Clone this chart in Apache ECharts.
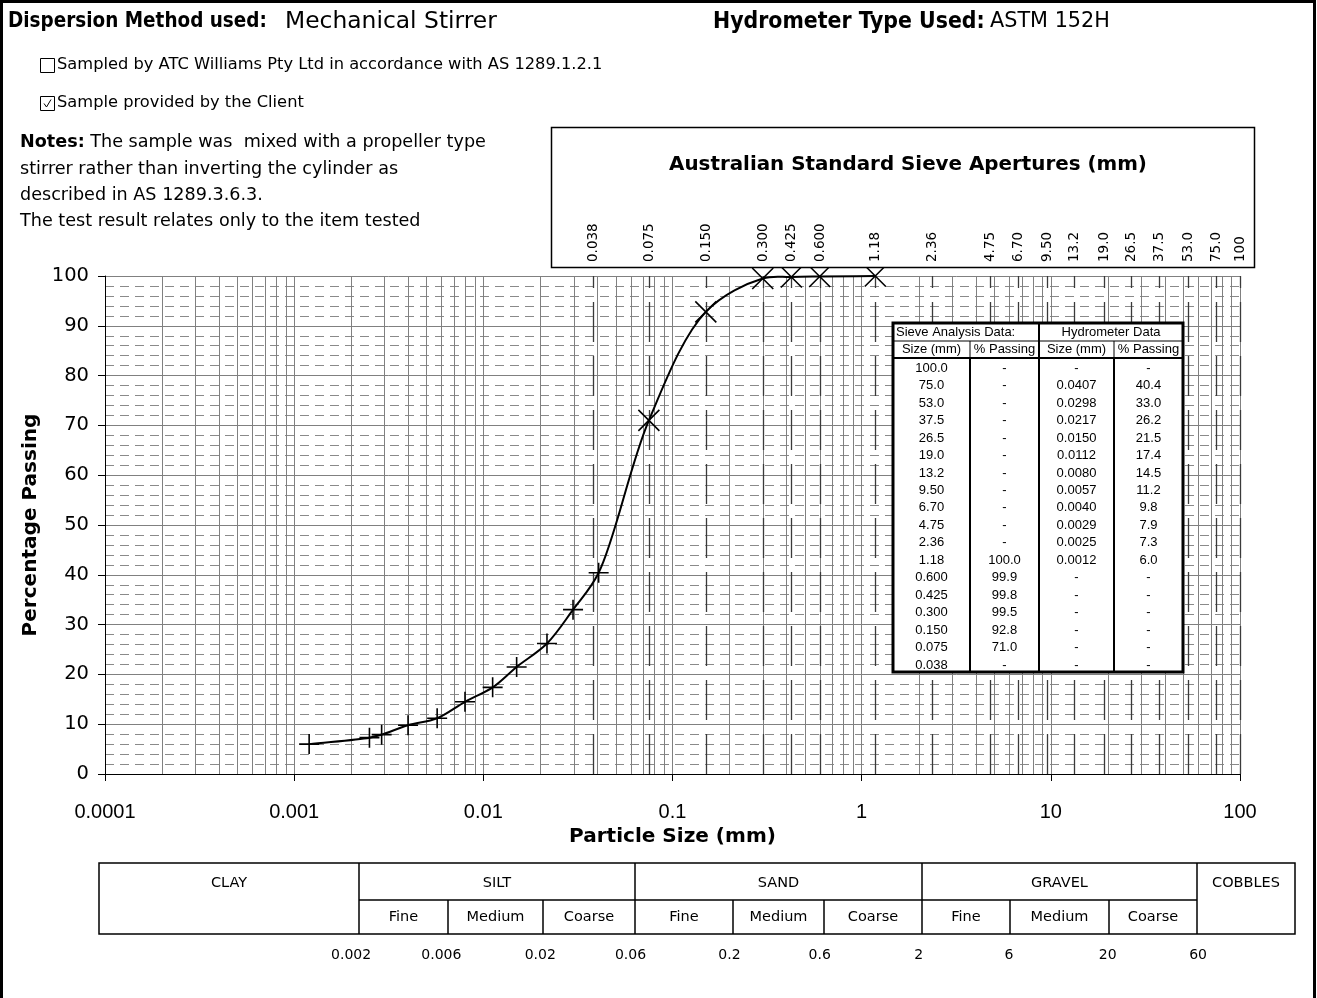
<!DOCTYPE html>
<html>
<head>
<meta charset="utf-8">
<title>Particle Size Distribution</title>
<script src="https://cdn.jsdelivr.net/npm/echarts@6/dist/echarts.min.js"></script>
<style>
  html, body { margin: 0; padding: 0; background: #fff; }
  #chart { width: 1317px; height: 998px; }
</style>
</head>
<body>
<div id="chart"></div>
<script>
// ---- Test data (rows listed coarse to fine, '-' = no reading) ----
const sieveSizes   = ['100.0','75.0','53.0','37.5','26.5','19.0','13.2','9.50','6.70','4.75','2.36','1.18','0.600','0.425','0.300','0.150','0.075','0.038'];
const sievePassing = ['-','-','-','-','-','-','-','-','-','-','-','100.0','99.9','99.8','99.5','92.8','71.0','-'];
const hydroSizes   = ['-','0.0407','0.0298','0.0217','0.0150','0.0112','0.0080','0.0057','0.0040','0.0029','0.0025','0.0012','-','-','-','-','-','-'];
const hydroPassing = ['-','40.4','33.0','26.2','21.5','17.4','14.5','11.2','9.8','7.9','7.3','6.0','-','-','-','-','-','-'];

// ---- Axis / annotation text ----
const apertureLabels = ['0.038','0.075','0.150','0.300','0.425','0.600','1.18','2.36','4.75','6.70','9.50','13.2','19.0','26.5','37.5','53.0','75.0','100'];
const xTickLabels = ['0.0001','0.001','0.01','0.1','1','10','100'];
const mainBands = ['CLAY','SILT','SAND','GRAVEL','COBBLES'];
const subBands = ['Fine','Medium','Coarse'];
const bandLimits = ['0.002','0.006','0.02','0.06','0.2','0.6','2','6','20','60'];
const noteLines = [
  'The sample was  mixed with a propeller type',
  'stirrer rather than inverting the cylinder as',
  'described in AS 1289.3.6.3.',
  'The test result relates only to the item tested'
];

const SANS = '"DejaVu Sans",Verdana,sans-serif';
const SANS_C = '"DejaVu Sans Condensed","DejaVu Sans",sans-serif';
const ARIAL = '"Liberation Sans",Arial,sans-serif';

// font size that makes a string span a given width
const mctx = document.createElement('canvas').getContext('2d');
function textW(str, weight, size, family) {
  mctx.font = weight + ' ' + size + 'px ' + family;
  return mctx.measureText(str).width;
}
function fit(str, weight, target, family) {
  return 100 * target / textW(str, weight, 100, family || SANS);
}

const num = s => (s === '-' ? null : parseFloat(s));
const sievePts = [];
sieveSizes.forEach((s, i) => { const p = num(sievePassing[i]); if (p !== null) sievePts.push([num(s), p]); });
const hydroPts = [];
hydroSizes.forEach((s, i) => { const p = num(hydroPassing[i]); if (s !== '-' && p !== null) hydroPts.push([num(s), p]); });
const curve = sievePts.concat(hydroPts).sort((a, b) => a[0] - b[0]);

// log-cycle minor grid (2..9 in each decade) and sieve aperture guide lines
const minorX = [];
for (let e = -4; e < 2; e++) for (let k = 2; k <= 9; k++) minorX.push([+(k * Math.pow(10, e)).toPrecision(3), 0]);
const sieveX = apertureLabels.map(s => [parseFloat(s), 0]);

function vline(color, width, dash) {
  return function (params, api) {
    const v = api.value(0);
    const p0 = api.coord([v, 0]);
    const p1 = api.coord([v, 100]);
    const x = Math.round(p0[0]) + 0.5;
    return {
      type: 'line',
      shape: { x1: x, y1: p0[1], x2: x, y2: p1[1] },
      style: { stroke: color, lineWidth: width, lineDash: dash },
      silent: true
    };
  };
}

// smoothed grading curve: one centripetal Catmull-Rom segment per reading,
// converted to a cubic bezier in screen space
function gradingSegment(params, api) {
  const i = params.dataIndex;
  const n = curve.length;
  if (i >= n - 1) return null;
  const P = k => api.coord(curve[Math.max(0, Math.min(n - 1, k))]);
  const p0 = P(i - 1), p1 = P(i), p2 = P(i + 1), p3 = P(i + 2);
  const dist = (a, b) => Math.sqrt(Math.hypot(b[0] - a[0], b[1] - a[1]));
  const d1 = dist(p0, p1), d2 = dist(p1, p2), d3 = dist(p2, p3);
  let c1 = p1, c2 = p2;
  if (d1 > 1e-6) {
    const A = d1 * d1, B = d2 * d2, den = 3 * d1 * (d1 + d2);
    c1 = [0, 1].map(k => (A * p2[k] - B * p0[k] + (2 * A + 3 * d1 * d2 + B) * p1[k]) / den);
  } else {
    c1 = [0, 1].map(k => p1[k] + (p2[k] - p1[k]) / 3);
  }
  if (d3 > 1e-6) {
    const C = d3 * d3, B = d2 * d2, den = 3 * d3 * (d3 + d2);
    c2 = [0, 1].map(k => (C * p1[k] - B * p3[k] + (2 * C + 3 * d3 * d2 + B) * p2[k]) / den);
  } else {
    c2 = [0, 1].map(k => p2[k] - (p2[k] - p1[k]) / 3);
  }
  return {
    type: 'bezierCurve',
    shape: {
      x1: p1[0], y1: p1[1], x2: p2[0], y2: p2[1],
      cpx1: c1[0], cpy1: c1[1], cpx2: c2[0], cpy2: c2[1]
    },
    style: { stroke: '#000', lineWidth: 2, fill: 'none' },
    silent: true
  };
}

const chart = echarts.init(document.getElementById('chart'));

const option = {
  animation: false,
  backgroundColor: '#fff',
  grid: { left: 105, right: 77, top: 276, bottom: 224 },
  xAxis: {
    type: 'log', logBase: 10, min: 0.0001, max: 100, splitNumber: 6,
    axisLine: { show: true, onZero: false, lineStyle: { color: '#000', width: 1 } },
    axisTick: { show: true, length: 7, lineStyle: { color: '#000' } },
    axisLabel: {
      margin: 28, fontSize: 20, fontFamily: ARIAL, color: '#000',
      formatter: v => xTickLabels[Math.round(Math.log10(v)) + 4]
    },
    splitLine: { show: true, lineStyle: { color: '#808080', width: 1 } },
    minorTick: { show: false }, minorSplitLine: { show: false },
    name: 'Particle Size (mm)', nameLocation: 'middle', nameGap: 53,
    nameTextStyle: { fontFamily: SANS, fontWeight: 'bold', fontSize: fit('Particle Size (mm)', 'bold', 207), color: '#000' }
  },
  yAxis: {
    type: 'value', min: 0, max: 100, interval: 10,
    axisLine: { show: true, lineStyle: { color: '#000', width: 1 } },
    axisTick: { show: true, length: 7, lineStyle: { color: '#000' } },
    axisLabel: { fontSize: 19.5, fontFamily: SANS, color: '#000', margin: 16 },
    splitLine: { show: true, lineStyle: { color: '#808080', width: 1 } },
    minorTick: { show: false, splitNumber: 5 },
    minorSplitLine: { show: true, lineStyle: { color: '#8a8a8a', width: 1, type: [9, 6] } },
    name: 'Percentage Passing', nameLocation: 'middle', nameGap: 60, nameRotate: 90,
    nameTextStyle: { fontFamily: SANS, fontWeight: 'bold', fontSize: fit('Percentage Passing', 'bold', 223), color: '#000' }
  },
  series: [
    { type: 'custom', data: minorX, renderItem: vline('#808080', 1, null), z: 1, silent: true },
    { type: 'custom', data: sieveX, renderItem: vline('#3a3a3a', 1.3, [40, 14]), z: 2, silent: true },
    { type: 'custom', data: curve, renderItem: gradingSegment, clip: false, z: 3, silent: true },
    {
      type: 'scatter', data: sievePts, z: 4,
      symbol: 'path://M0,0L10,10M0,10L10,0', symbolSize: 21,
      itemStyle: { color: 'none', borderColor: '#000', borderWidth: 1.6, opacity: 1 }
    },
    {
      type: 'scatter', data: hydroPts, z: 4,
      symbol: 'path://M5,0L5,10M0,5L10,5', symbolSize: 20,
      itemStyle: { color: 'none', borderColor: '#000', borderWidth: 1.6, opacity: 1 }
    }
  ]
};

chart.setOption(option);

const X = v => chart.convertToPixel({ xAxisIndex: 0 }, v);
const g = [];
const text = (x, y, str, o) => g.push({
  type: 'text', x, y, z: 100, silent: true, rotation: (o && o.rotation) || 0,
  style: Object.assign({ text: str, fill: '#000', fontFamily: SANS, fontSize: 16, align: 'left', verticalAlign: 'middle' }, o && o.style)
});
const line = (x1, y1, x2, y2, w) => g.push({
  type: 'line', z: 100, silent: true, shape: { x1, y1, x2, y2 }, style: { stroke: '#000', lineWidth: w || 1 }
});
const box = (x, y, w, h, lw, fill) => g.push({
  type: 'rect', z: 99, silent: true, shape: { x, y, width: w, height: h },
  style: { fill: fill || null, stroke: '#000', lineWidth: lw }
});

// page frame
box(1.5, 1.5, 1313, 1100, 3);

// header
const hdr = [
  ['Dispersion Method used:', 'bold', 8, 259, SANS_C],
  ['Mechanical Stirrer', 'normal', 285, 212, SANS],
  ['Hydrometer Type Used:', 'bold', 713, 272, SANS_C],
  ['ASTM 152H', 'normal', 990, 120, SANS]
];
hdr.forEach(h => text(h[2], 22, h[0], {
  style: { fontWeight: h[1], fontFamily: h[4], fontSize: fit(h[0], h[1], h[3], h[4]) }
}));

// check boxes
const cb1 = 'Sampled by ATC Williams Pty Ltd in accordance with AS 1289.1.2.1';
const cb2 = 'Sample provided by the Client';
const cbSize = (fit(cb1, 'normal', 561) + fit(cb2, 'normal', 240)) / 2;
box(40.5, 58.5, 14, 14, 1);
text(57, 65, cb1, { style: { fontSize: cbSize } });
box(40.5, 96.5, 14, 14, 1);
g.push({ type: 'polyline', z: 100, silent: true, shape: { points: [[44, 103.5], [46.5, 107], [51, 99.5]] }, style: { stroke: '#000', lineWidth: 1, fill: null } });
text(57, 103, cb2, { style: { fontSize: cbSize } });

// notes
const noteTargets = [378, 242, 403];
let ns = 0;
noteTargets.forEach((t, i) => { ns += fit(noteLines[i + 1], 'normal', t); });
ns /= noteTargets.length;
text(20, 142, '{b|Notes:} ' + noteLines[0],
  { style: { fontSize: ns, rich: { b: { fontWeight: 'bold', fontSize: ns, fontFamily: SANS } } } });
noteLines.slice(1).forEach((s, i) => text(20, 169 + i * 26, s, { style: { fontSize: ns } }));

// sieve aperture box
box(551.5, 127.5, 703, 140, 1.5, '#fff');
const ttl = 'Australian Standard Sieve Apertures (mm)';
text(908, 165, ttl, { style: { fontSize: fit(ttl, 'bold', 478), fontWeight: 'bold', align: 'center' } });
apertureLabels.forEach(s => {
  text(Math.round(X(parseFloat(s))), 262, s, { rotation: Math.PI / 2, style: { fontSize: 13.5, align: 'left', verticalAlign: 'middle' } });
});

// data table
const TL = 893, TR = 1183, TT = 323, TB = 672;
const cols = [893, 970, 1039, 1114, 1183];
const colMid = [931.5, 1004.5, 1076.5, 1148.5];
const rowY0 = 368.3, rowH = 17.45;
box(TL, TT, TR - TL, TB - TT, 3, '#fff');
line(TL, 341, TR, 341, 1);
line(TL, 358, TR, 358, 2);
line(cols[1], 341, cols[1], 358, 1);
line(cols[1], 358, cols[1], TB, 2);
line(cols[2], TT, cols[2], TB, 2);
line(cols[3], 341, cols[3], 358, 1);
line(cols[3], 358, cols[3], TB, 2);
const tStyle = a => ({ style: { fontFamily: ARIAL, fontSize: 13, align: a || 'center' } });
text(896, 332, 'Sieve Analysis Data:', tStyle('left'));
text(1111, 332, 'Hydrometer Data', tStyle());
['Size (mm)', '% Passing', 'Size (mm)', '% Passing'].forEach((h, i) => text(colMid[i], 349.5, h, tStyle()));
sieveSizes.forEach((s, i) => {
  const y = rowY0 + i * rowH;
  text(colMid[0], y, s, tStyle());
  text(colMid[1], y, sievePassing[i], tStyle());
  text(colMid[2], y, hydroSizes[i], tStyle());
  text(colMid[3], y, hydroPassing[i], tStyle());
});

// soil classification bands
const bT = 863, bM = 900, bB = 934;
const mainEdges = [99, 359, 635, 922, 1197, 1295];
const subEdges = [[359, 448, 543, 635], [635, 733, 824, 922], [922, 1010, 1109, 1197]];
box(mainEdges[0], bT, mainEdges[5] - mainEdges[0], bB - bT, 1.5);
line(mainEdges[1], bM, mainEdges[4], bM, 1.5);
mainEdges.slice(1, 5).forEach(x => line(x, bT, x, bB, 1.5));
mainBands.forEach((b, i) => text((mainEdges[i] + mainEdges[i + 1]) / 2, 883, b, { style: { fontSize: 14.5, align: 'center' } }));
subEdges.forEach(ed => {
  line(ed[1], bM, ed[1], bB, 1.5);
  line(ed[2], bM, ed[2], bB, 1.5);
  subBands.forEach((s, j) => text((ed[j] + ed[j + 1]) / 2, 917, s, { style: { fontSize: 14.5, align: 'center' } }));
});
bandLimits.forEach(s => text(X(parseFloat(s)), 955, s, { style: { fontSize: 14, align: 'center' } }));

chart.setOption({ graphic: { elements: g } });
</script>
</body>
</html>
